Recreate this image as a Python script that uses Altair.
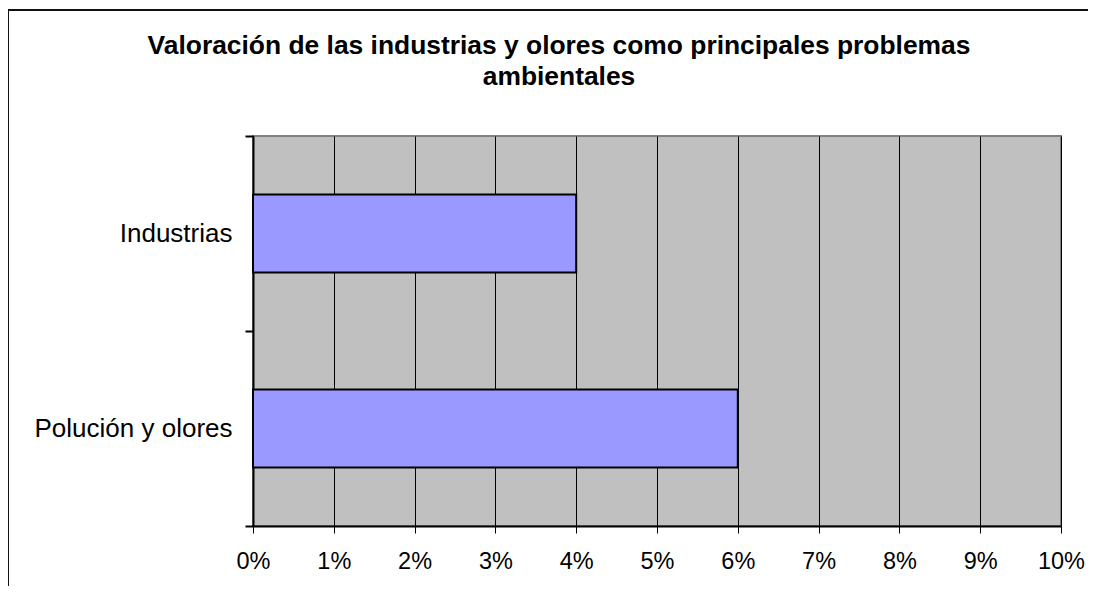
import altair as alt
import pandas as pd

categorias = ["Industrias", "Polución y olores"]
valores = [0.04, 0.06]
ticks_x = [0, 0.01, 0.02, 0.03, 0.04, 0.05, 0.06, 0.07, 0.08, 0.09, 0.10]
titulo = ["Valoración de las industrias y olores como principales problemas", "ambientales"]

df = pd.DataFrame({"categoria": categorias, "valor": valores})
FONT = "Liberation Sans"

bars = alt.Chart(df).mark_bar(color="#9999FF", stroke="#000000", strokeWidth=2,
                              height=alt.RelativeBandSize(0.4)).encode(
    x=alt.X("valor:Q",
            scale=alt.Scale(domain=[0, 0.1], nice=False),
            axis=alt.Axis(values=ticks_x, format=".0%", title=None, grid=True,
                          gridColor="#000000", gridWidth=1, gridOpacity=1,
                          domainColor="#000000", domainWidth=2,
                          tickColor="#000000", tickSize=7, tickWidth=1,
                          labelFont=FONT, labelFontSize=23.5, labelColor="#000000",
                          labelPadding=16, labelFlush=False)),
    y=alt.Y("categoria:N", sort=categorias,
            scale=alt.Scale(paddingInner=0, paddingOuter=0),
            axis=alt.Axis(title=None, tickBand="extent", domainColor="#000000",
                          domainWidth=2, tickColor="#000000", tickSize=8, tickWidth=2,
                          labelFont=FONT, labelFontSize=26, labelColor="#000000",
                          labelPadding=13, labelLimit=500)),
)

frame_df = pd.DataFrame({"a": [0]})
frame_left = alt.Chart(frame_df).mark_rule(color="#111111", strokeWidth=2).encode(
    x=alt.value(-245), y=alt.value(-126), y2=alt.value(700))
frame_top = alt.Chart(frame_df).mark_rule(color="#111111", strokeWidth=2).encode(
    x=alt.value(-246), x2=alt.value(900), y=alt.value(-126))

title_df = pd.DataFrame({"a": [0]})
title1 = alt.Chart(title_df).mark_text(font=FONT, fontSize=26.4, fontWeight="bold",
                                       color="#000000", align="center",
                                       baseline="alphabetic").encode(
    x=alt.value(306), y=alt.value(-82), text=alt.value(titulo[0]))
title2 = alt.Chart(title_df).mark_text(font=FONT, fontSize=26.4, fontWeight="bold",
                                       color="#000000", align="center",
                                       baseline="alphabetic").encode(
    x=alt.value(306), y=alt.value(-51), text=alt.value(titulo[1]))

chart = alt.layer(bars, frame_left, frame_top, title1, title2).properties(
    width=808, height=390,
    padding={"left": 245, "top": 128, "right": 27, "bottom": 60},
    autosize=alt.AutoSizeParams(type="none"),
    background="#FFFFFF",
).configure_view(
    fill="#C0C0C0", stroke="#808080", strokeWidth=2
)

chart.save("out.html", embed_options={"renderer": "svg", "actions": False})
